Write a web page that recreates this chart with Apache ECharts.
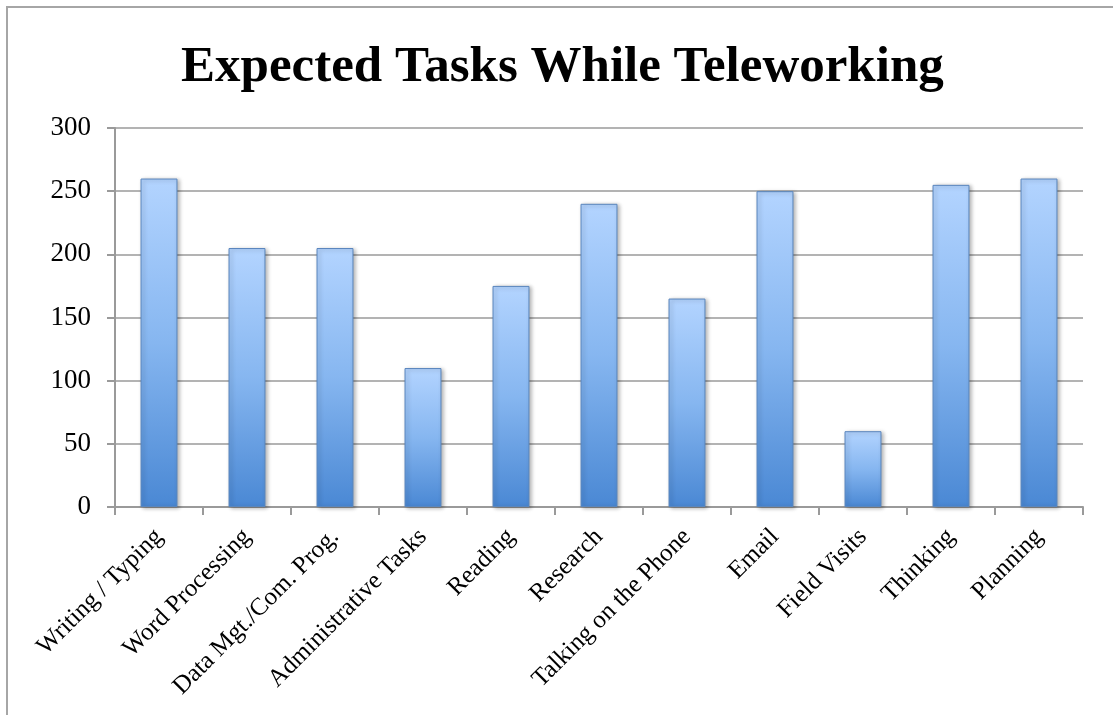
<!DOCTYPE html>
<html>
<head>
<meta charset="utf-8">
<script src="https://cdn.jsdelivr.net/npm/echarts@6/dist/echarts.min.js"></script>
<style>
  html, body { margin: 0; padding: 0; background: #fff; }
  #frame { position: absolute; left: 6px; top: 6px; width: 1120px; height: 720px; border-top: 2px solid #a6a6a6; border-left: 2px solid #a6a6a6; }
  #chart { position: absolute; left: 0; top: 0; width: 1113px; height: 715px; }
</style>
</head>
<body>
<div id="frame"></div>
<div id="chart"></div>
<script>
const categories = ["Writing / Typing", "Word Processing", "Data Mgt./Com. Prog.", "Administrative Tasks", "Reading", "Research", "Talking on the Phone", "Email", "Field Visits", "Thinking", "Planning"];
const values = [260, 205, 205, 110, 175, 240, 165, 250, 60, 255, 260];
const titleText = "Expected Tasks While Teleworking";

const chart = echarts.init(document.getElementById('chart'), null, { renderer: 'canvas' });
chart.setOption({
  animation: false,
  backgroundColor: 'transparent',
  title: {
    text: titleText,
    left: 176,
    top: 37,
    textStyle: { fontFamily: 'Liberation Serif', fontWeight: 'bold', fontSize: 51, color: '#000' }
  },
  grid: { left: 115, right: 30, top: 128, bottom: 208, containLabel: false },
  xAxis: {
    type: 'category',
    data: categories,
    axisLine: { lineStyle: { color: '#9a9a9a', width: 2 } },
    axisTick: { show: true, length: 8, lineStyle: { color: '#9a9a9a', width: 2 } },
    axisLabel: { rotate: 45, interval: 0, margin: 26, fontFamily: 'Liberation Serif', fontSize: 25, color: '#000' }
  },
  yAxis: {
    type: 'value',
    min: 0, max: 300, interval: 50,
    axisLine: { show: true, lineStyle: { color: '#9a9a9a', width: 2 } },
    axisTick: { show: true, length: 8, lineStyle: { color: '#9a9a9a', width: 2 } },
    splitLine: { lineStyle: { color: '#9a9a9a', width: 1.5 } },
    axisLabel: { margin: 24, fontFamily: 'Liberation Serif', fontSize: 27, color: '#000' }
  },
  series: [{
    type: 'bar',
    data: values,
    barWidth: '42%',
    itemStyle: {
      color: new echarts.graphic.LinearGradient(0, 0, 0, 1, [
        { offset: 0, color: '#b3d4ff' },
        { offset: 0.5, color: '#86b6f0' },
        { offset: 1, color: '#4a88d4' }
      ]),
      borderColor: '#5a86bd',
      borderWidth: 1,
      shadowColor: 'rgba(0,0,0,0.3)',
      shadowBlur: 4,
      shadowOffsetX: 2,
      shadowOffsetY: 1
    }
  }]
});
</script>
</body>
</html>
